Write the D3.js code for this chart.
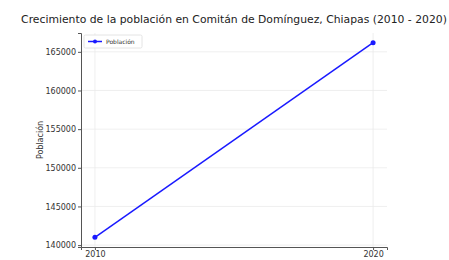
<!DOCTYPE html>
<html>
<head>
<meta charset="utf-8">
<script src="https://cdn.jsdelivr.net/npm/d3@7"></script>
<style>
body{margin:0;background:#fff;}
text{font-family:"DejaVu Sans",sans-serif;}
</style>
</head>
<body>
<svg id="chart" width="449" height="260"></svg>
<script>
// datos
var years = [2010, 2020];
var poblacion = [141013, 166178];
var yTicks = [140000, 145000, 150000, 155000, 160000, 165000];

var svg = d3.select("#chart");
var margin = {left:81, right:62, top:33, bottom:13};
var width = 449 - margin.left - margin.right;
var height = 260 - margin.top - margin.bottom;

var g = svg.append("g").attr("transform","translate("+margin.left+","+margin.top+")");

// escalas con margen 5% como matplotlib
var xPad = (years[1]-years[0])*0.05;
var x = d3.scaleLinear().domain([years[0]-xPad, years[1]+xPad]).range([0,width]);
var yMin = d3.min(poblacion), yMax = d3.max(poblacion);
var yPad = (yMax-yMin)*0.05;
var y = d3.scaleLinear().domain([yMin-yPad, yMax+yPad]).range([height,0]);

// rejilla
g.selectAll(".hgrid").data(yTicks).enter().append("line")
	.attr("x1",0).attr("x2",width)
	.attr("y1",d=>y(d)).attr("y2",d=>y(d))
	.style("stroke","#ebebeb").style("stroke-width",0.8);
g.selectAll(".vgrid").data(years).enter().append("line")
	.attr("x1",d=>x(d)).attr("x2",d=>x(d))
	.attr("y1",0).attr("y2",height)
	.style("stroke","#ebebeb").style("stroke-width",0.8);

// ejes
var yAxis = g.append("g").call(d3.axisLeft(y).tickValues(yTicks).tickSize(3).tickPadding(2).tickFormat(d3.format("d")));
var xAxis = g.append("g").attr("transform","translate(0,"+height+")")
	.call(d3.axisBottom(x).tickValues(years).tickSize(3).tickPadding(1).tickFormat(d3.format("d")));
[xAxis,yAxis].forEach(a=>{
	a.select(".domain").style("stroke","#555").style("stroke-width",1);
	a.selectAll(".tick line").style("stroke","#555");
	a.selectAll("text").style("font-size","8px").style("fill","#333").style("font-family","DejaVu Sans");
});

// linea
var pts = years.map((d,i)=>({x:d,y:poblacion[i]}));
g.append("path").datum(pts)
	.attr("d",d3.line().x(d=>x(d.x)).y(d=>y(d.y)))
	.style("fill","none").style("stroke","#1a1aff").style("stroke-width",1.5);
g.selectAll(".pt").data(pts).enter().append("circle")
	.attr("cx",d=>x(d.x)).attr("cy",d=>y(d.y)).attr("r",2.5)
	.style("fill","#1a1aff");

// leyenda
var leg = g.append("g").attr("transform","translate(3,2)");
leg.append("rect").attr("width",58).attr("height",13).attr("rx",1.5)
	.style("fill","#fff").style("stroke","#ddd").style("stroke-width",0.8);
leg.append("line").attr("x1",4).attr("x2",18).attr("y1",6.5).attr("y2",6.5)
	.style("stroke","#1a1aff").style("stroke-width",1.5);
leg.append("circle").attr("cx",11).attr("cy",6.5).attr("r",2).style("fill","#1a1aff");
leg.append("text").attr("x",22).attr("y",8.8).text("Población")
	.style("font-size","6px").style("fill","#333");

// titulos
svg.append("text").attr("x",234).attr("y",23).attr("text-anchor","middle")
	.style("font-size","10.8px").style("fill","#222")
	.text("Crecimiento de la población en Comitán de Domínguez, Chiapas (2010 - 2020)");
svg.append("text").attr("transform","translate(43,"+(margin.top+height/2)+") rotate(-90)")
	.attr("text-anchor","middle").style("font-size","8px").style("fill","#333")
	.text("Población");
</script>
</body>
</html>
